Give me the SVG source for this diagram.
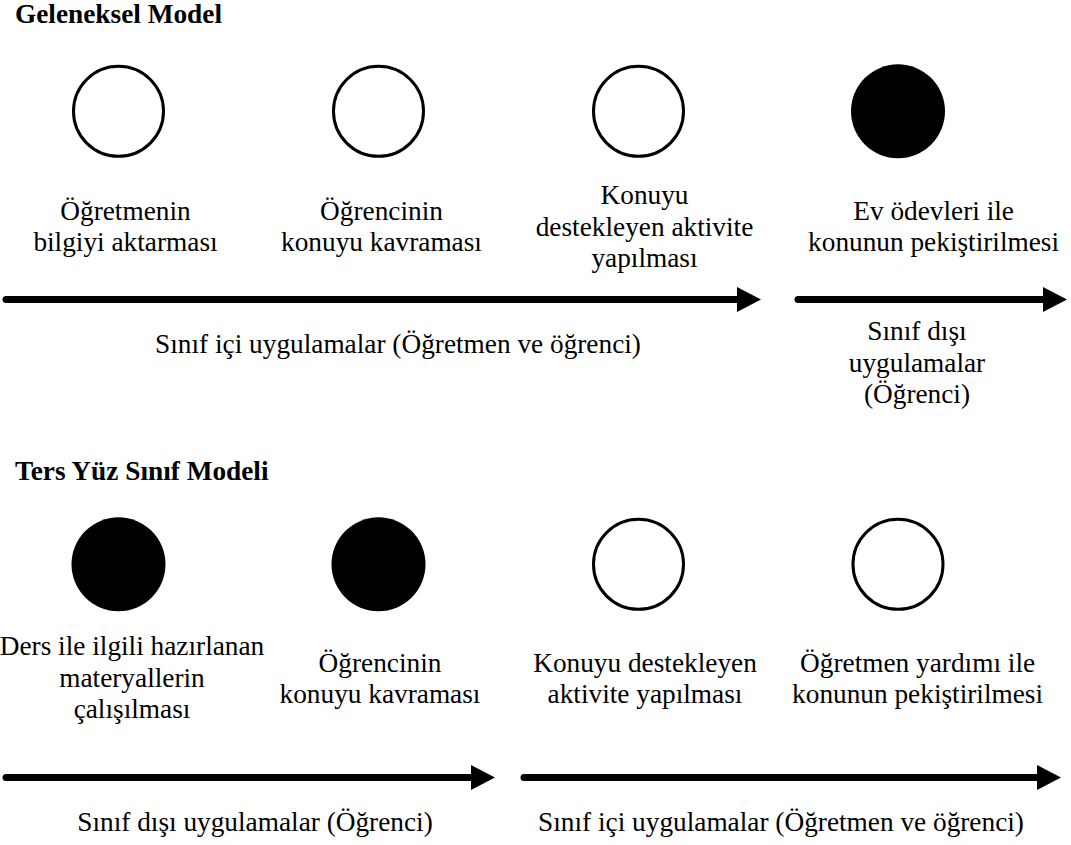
<svg xmlns="http://www.w3.org/2000/svg" width="1071" height="845" viewBox="0 0 1071 845">
<defs>
<style>
text{font-family:"Liberation Serif","Times New Roman",Times,serif;font-size:27.3px;fill:#000;text-anchor:middle}
.title{font-weight:bold;text-anchor:start}
.open{fill:#fff;stroke:#000;stroke-width:3}
.full{fill:#000}
.shaft{stroke:#000;stroke-width:7;stroke-linecap:round;fill:none}
.head{fill:#000}
</style>
</defs>
<rect width="1071" height="845" fill="#fff"/>
<text class="title" x="15" y="23">Geleneksel Model</text>
<text class="title" x="15" y="480">Ters Yüz Sınıf Modeli</text>

<g id="t1"><circle class="open" cx="118.5" cy="111.3" r="45"/><text x="125.5" y="219.7">Öğretmenin</text><text x="125.5" y="251.3">bilgiyi aktarması</text></g>
<g id="t2"><circle class="open" cx="378.5" cy="111.3" r="45"/><text x="381.5" y="219.7">Öğrencinin</text><text x="381.5" y="251.3">konuyu kavraması</text></g>
<g id="t3"><circle class="open" cx="638.5" cy="111.3" r="45"/><text x="644.5" y="203.9">Konuyu</text><text x="644.5" y="235.5">destekleyen aktivite</text><text x="644.5" y="267.1">yapılması</text></g>
<g id="t4"><circle class="full" cx="898" cy="111.3" r="47"/><text x="933.6" y="219.7">Ev ödevleri ile</text><text x="933.6" y="251.3">konunun pekiştirilmesi</text></g>

<g id="b1"><circle class="full" cx="118.5" cy="564.3" r="47"/><text x="132" y="655">Ders ile ilgili hazırlanan</text><text x="132" y="686.5">materyallerin</text><text x="132" y="718">çalışılması</text></g>
<g id="b2"><circle class="full" cx="378.5" cy="564.3" r="47"/><text x="380" y="671.5">Öğrencinin</text><text x="380" y="703">konuyu kavraması</text></g>
<g id="b3"><circle class="open" cx="638.5" cy="564.3" r="45"/><text x="645" y="671.5">Konuyu destekleyen</text><text x="645" y="703">aktivite yapılması</text></g>
<g id="b4"><circle class="open" cx="898" cy="564.3" r="45"/><text x="917.6" y="671.5">Öğretmen yardımı ile</text><text x="917.6" y="703">konunun pekiştirilmesi</text></g>

<g id="connectors">
<line class="shaft" x1="6" y1="299.5" x2="740" y2="299.5"/><polygon class="head" points="737,287 761,299.5 737,312"/>
<line class="shaft" x1="798" y1="299.5" x2="1045" y2="299.5"/><polygon class="head" points="1043,287 1067,299.5 1043,312"/>
<line class="shaft" x1="6" y1="777.5" x2="474" y2="777.5"/><polygon class="head" points="471,765 495,777.5 471,790"/>
<line class="shaft" x1="524" y1="777.5" x2="1040" y2="777.5"/><polygon class="head" points="1037,765 1061,777.5 1037,790"/>
</g>

<g id="labels">
<text x="398" y="352.7">Sınıf içi uygulamalar (Öğretmen ve öğrenci)</text>
<text x="917" y="340">Sınıf dışı</text>
<text x="917" y="371.6">uygulamalar</text>
<text x="917" y="403.2">(Öğrenci)</text>
<text x="255" y="831">Sınıf dışı uygulamalar (Öğrenci)</text>
<text x="781" y="831">Sınıf içi uygulamalar (Öğretmen ve öğrenci)</text>
</g>
</svg>
